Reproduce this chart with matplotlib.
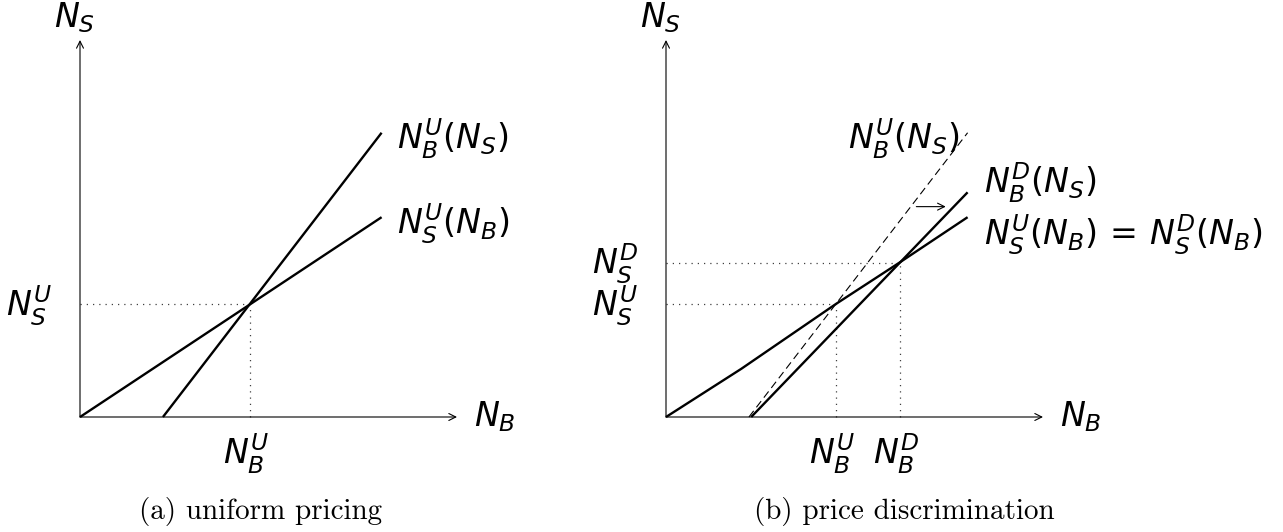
import matplotlib
matplotlib.use("Agg")
import matplotlib.pyplot as plt
import numpy as np

plt.rcParams['mathtext.fontset'] = 'dejavusans'

# ---- data (model units) ----
axis_len = 5.0
# seller response N_S(N_B) (shallow)
seller_x = [0.0, 4.0]
seller_y = [0.0, 2.65]
seller_b_x = [0.0, 1.0, 2.255, 3.1, 4.0]
seller_b_y = [0.0, 0.64, 1.5, 2.05, 2.65]
# buyer response uniform N_B^U(N_S) (steep)
buyerU_x = [1.1, 4.0]
buyerU_y = [0.0, 3.77]
# buyer response discrimination N_B^D(N_S)
buyerD_x = [1.13, 4.0]
buyerD_y = [0.0, 2.98]
# equilibria
eqU = (2.255, 1.5)
eqD = (3.10, 2.04)
# shift arrow
shift_x = [3.32, 3.71]
shift_y = 2.79

PX = 75.4  # pixels per unit
W, H = 1283, 532
fig = plt.figure(figsize=(W / 100, H / 100), dpi=100)

def make_ax(left_px, right_px, origin_px):
    ax = fig.add_axes([left_px / W, 0, (right_px - left_px) / W, 1])
    ax.set_xlim((left_px - origin_px[0]) / PX, (right_px - origin_px[0]) / PX)
    ax.set_ylim(-(H - origin_px[1]) / PX, origin_px[1] / PX)
    ax.axis('off')
    return ax

lw_thick = 1.7
lw_thin = 0.8
fs = 24
dot = dict(color='0.25', lw=0.9, linestyle=(0, (1, 4)))

def axes_arrows(ax):
    arr = dict(arrowstyle='->,head_length=0.5,head_width=0.25', lw=lw_thin, color='black',
               shrinkA=0, shrinkB=0)
    ax.annotate('', xy=(axis_len, 0), xytext=(0, 0), arrowprops=arr)
    ax.annotate('', xy=(0, axis_len), xytext=(0, 0), arrowprops=arr)
    ax.text(-0.07, 5.29, r'$N_S$', fontsize=fs, ha='center', va='center')
    ax.text(5.22, 0.0, r'$N_B$', fontsize=fs, ha='left', va='center')

# ---------- panel (a) ----------
axa = make_ax(0, 586, (80, 417))
axes_arrows(axa)
axa.plot([0, eqU[0]], [eqU[1], eqU[1]], **dot)
axa.plot([eqU[0], eqU[0]], [0, eqU[1]], **dot)
axa.plot(seller_x, seller_y, color='black', lw=lw_thick, solid_capstyle='butt')
axa.plot(buyerU_x, buyerU_y, color='black', lw=lw_thick, solid_capstyle='butt')
axa.text(4.21, 3.69, r'$N_B^U(N_S)$', fontsize=fs, ha='left', va='center')
axa.text(4.21, 2.56, r'$N_S^U(N_B)$', fontsize=fs, ha='left', va='center')
axa.text(-0.37, 1.47, r'$N_S^U$', fontsize=fs, ha='right', va='center')
axa.text(eqU[0] - 0.05, -0.49, r'$N_B^U$', fontsize=fs, ha='center', va='center')
axa.text((261 - 80) / PX, -(512 - 417) / PX, '(a) uniform pricing', fontsize=21,
         family='cmr10', ha='center', va='center')

# ---------- panel (b) ----------
axb = make_ax(586, 1283, (666, 417))
axes_arrows(axb)
axb.plot([0, eqU[0]], [eqU[1], eqU[1]], **dot)
axb.plot([eqU[0], eqU[0]], [0, eqU[1]], **dot)
axb.plot([0, eqD[0]], [eqD[1], eqD[1]], **dot)
axb.plot([eqD[0], eqD[0]], [0, eqD[1]], **dot)
axb.plot(buyerU_x, buyerU_y, color='black', lw=lw_thin, linestyle=(0, (7, 4)))
axb.plot(seller_b_x, seller_b_y, color='black', lw=lw_thick, solid_capstyle='butt')
axb.plot(buyerD_x, buyerD_y, color='black', lw=lw_thick, solid_capstyle='butt')
axb.annotate('', xy=(shift_x[1], shift_y), xytext=(shift_x[0], shift_y),
             arrowprops=dict(arrowstyle='->,head_length=0.5,head_width=0.25', lw=lw_thin,
                             color='black', shrinkA=0, shrinkB=0))
axb.text(3.89, 3.69, r'$N_B^U(N_S)$', fontsize=fs, ha='right', va='center')
axb.text(4.22, 3.10, r'$N_B^D(N_S)$', fontsize=fs, ha='left', va='center')
axb.text(4.22, 2.41, r'$N_S^U(N_B)\,=\,N_S^D(N_B)$', fontsize=fs, ha='left', va='center')
axb.text(-0.37, 2.03, r'$N_S^D$', fontsize=fs, ha='right', va='center')
axb.text(-0.37, 1.47, r'$N_S^U$', fontsize=fs, ha='right', va='center')
axb.text(eqU[0] - 0.05, -0.49, r'$N_B^U$', fontsize=fs, ha='center', va='center')
axb.text(eqD[0] - 0.05, -0.49, r'$N_B^D$', fontsize=fs, ha='center', va='center')
axb.text((904 - 666) / PX, -(512 - 417) / PX, '(b) price discrimination', fontsize=21,
         family='cmr10', ha='center', va='center')

fig.savefig('out.png', dpi=100)
